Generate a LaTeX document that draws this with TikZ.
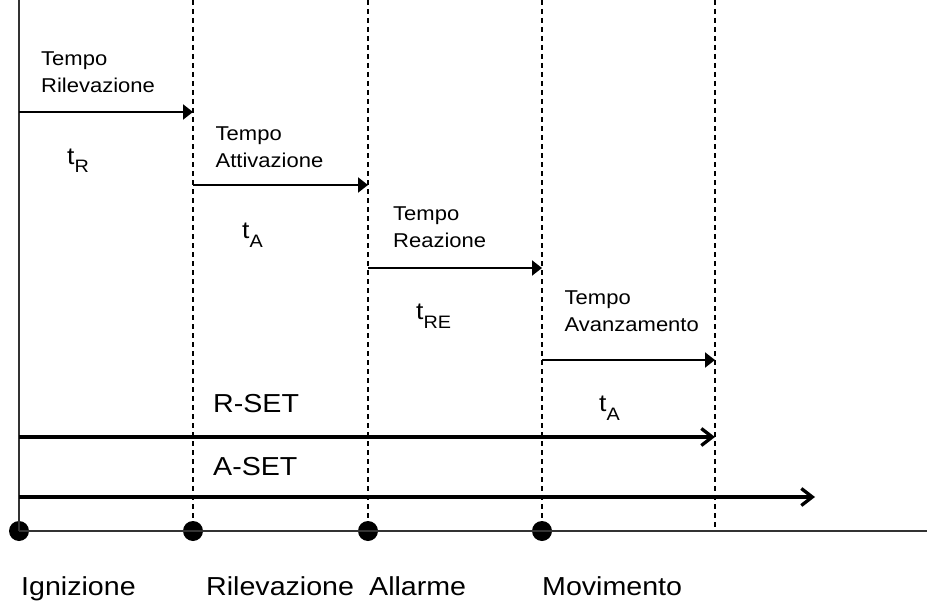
\documentclass[tikz,border=0pt]{standalone}
\usepackage{fontspec}
\setmainfont[FakeStretch=1.1]{Liberation Sans}
\usetikzlibrary{arrows.meta}
\newcommand{\tsub}[2]{{\fontsize{24}{26}\selectfont #1}\raisebox{-9pt}{\fontsize{18}{20}\selectfont #2}}
\begin{document}
\begin{tikzpicture}[x=1pt,y=-1pt,
  smalltxt/.style={font=\fontsize{20}{27}\selectfont, align=left, anchor=north west, inner sep=0pt},
  bigtxt/.style={font=\fontsize{26}{30}\selectfont, inner sep=0pt, anchor=base west},
  tlabel/.style={inner sep=0pt, anchor=base west},
  guide/.style={line width=1.3pt, dash pattern=on 5pt off 4pt},
  axis/.style={line width=1.3pt, black!80},
  stage/.style={line width=2pt, -{Triangle[length=10pt,width=15pt]}},
  setarrow/.style={line width=3.3pt, -{Straight Barb[length=11pt,width=17pt,line width=3.3pt]}},
  event/.style={circle, fill=black, minimum size=20pt, inner sep=0pt}]
\useasboundingbox (0,0) rectangle (927,602);
% timeline coordinates
\coordinate (x0top) at (19,0);
\coordinate (x1top) at (193,0);
\coordinate (x2top) at (368,0);
\coordinate (x3top) at (542,0);
\coordinate (x4top) at (715,0);
\coordinate (x4bot) at (715,531);
\coordinate (axend) at (927,531);
\node[event] (e0) at (19,531) {};
\node[event] (e1) at (193,531) {};
\node[event] (e2) at (368,531) {};
\node[event] (e3) at (542,531) {};
% verticals
\draw[axis] (x0top) -- (e0.center);
\draw[guide] (x1top) -- (e1.center);
\draw[guide] (x2top) -- (e2.center);
\draw[guide] (x3top) -- (e3.center);
\draw[guide] (x4top) -- (x4bot);
\draw[axis] (e0.center) -- (axend);
% stage arrows
\coordinate (a0s) at (19,112);  \coordinate (a0e) at (193,112);
\coordinate (a1s) at (193,185); \coordinate (a1e) at (368,185);
\coordinate (a2s) at (368,268); \coordinate (a2e) at (542,268);
\coordinate (a3s) at (542,360); \coordinate (a3e) at (715,360);
\draw[stage] (a0s) -- (a0e);
\draw[stage] (a1s) -- (a1e);
\draw[stage] (a2s) -- (a2e);
\draw[stage] (a3s) -- (a3e);
\node[smalltxt] (l0) at (41,51.5) {Tempo\\Rilevazione};
\node[smalltxt] (l1) at (215.5,126.5) {Tempo\\Attivazione};
\node[smalltxt] (l2) at (393,206.5) {Tempo\\Reazione};
\node[smalltxt] (l3) at (564.5,290.5) {Tempo\\Avanzamento};
\node[tlabel] (t0) at (67,164) {\tsub{t}{R}};
\node[tlabel] (t1) at (242,238) {\tsub{t}{A}};
\node[tlabel] (t2) at (416,319) {\tsub{t}{RE}};
\node[tlabel] (t3) at (599,411) {\tsub{t}{A}};
% set arrows
\coordinate (rs) at (19,437); \coordinate (re) at (715,437);
\coordinate (as) at (19,497); \coordinate (ae) at (815,497);
\draw[setarrow] (rs) -- (re);
\draw[setarrow] (as) -- (ae);
\node[bigtxt] (rset) at (213,412) {R-SET};
\node[bigtxt] (aset) at (213,475) {A-SET};
% bottom labels
\node[bigtxt] (b0) at (21,595) {Ignizione};
\node[bigtxt] (b1) at (206,595) {Rilevazione};
\node[bigtxt] (b2) at (369,595) {Allarme};
\node[bigtxt] (b3) at (542,595) {Movimento};
\end{tikzpicture}
\end{document}
